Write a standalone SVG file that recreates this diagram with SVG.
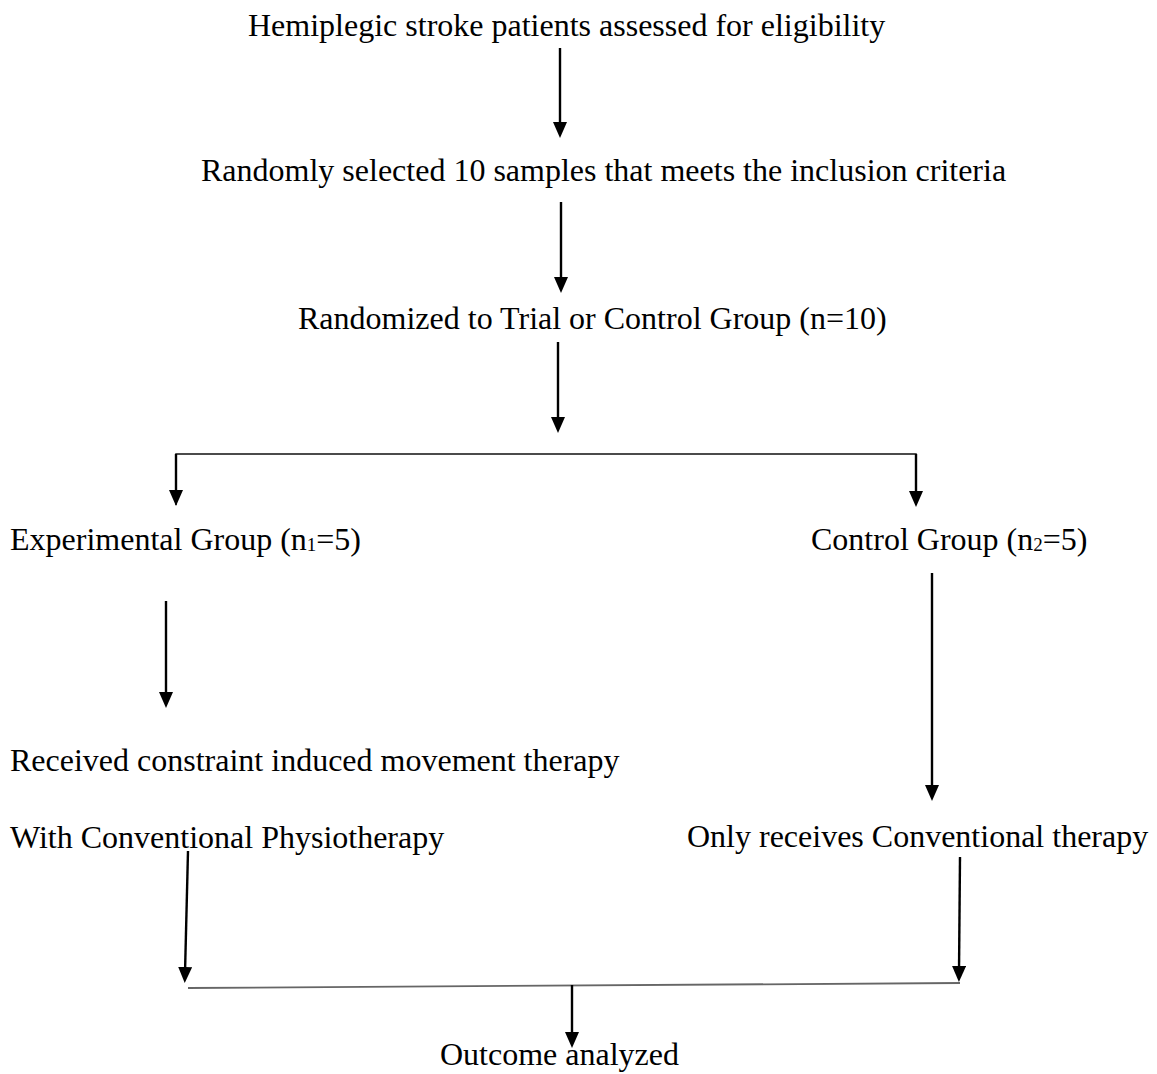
<svg xmlns="http://www.w3.org/2000/svg" width="1157" height="1074" viewBox="0 0 1157 1074">
<style>
  text { font-family: "Liberation Serif", "Times New Roman", serif; font-size: 32px; fill: #000; }
  .arr { stroke: #000; stroke-width: 2.4; fill: none; marker-end: url(#ah); }
  .bar { stroke: #111; stroke-width: 1.5; fill: none; }
  .bar2 { stroke: #666; stroke-width: 1.8; fill: none; }
  .sub { font-size: 19px; }
</style>
<defs>
  <marker id="ah" viewBox="0 0 16 14" refX="6" refY="7" markerWidth="16" markerHeight="14" markerUnits="userSpaceOnUse" orient="auto">
    <path d="M0,0 L16,7 L0,14 z" fill="#000"/>
  </marker>
</defs>
<rect width="1157" height="1074" fill="#fff"/>
<g id="n1"><text x="248" y="36">Hemiplegic stroke patients assessed for eligibility</text></g>
<g id="n2"><text x="201" y="181">Randomly selected 10 samples that meets the inclusion criteria</text></g>
<g id="n3"><text x="298" y="329">Randomized to Trial or Control Group (n=10)</text></g>
<g id="n4"><text x="10" y="550">Experimental Group (n<tspan class="sub" dy="1">1</tspan><tspan dy="-1">=5)</tspan></text></g>
<g id="n5"><text x="811" y="550">Control Group (n<tspan class="sub" dy="1">2</tspan><tspan dy="-1">=5)</tspan></text></g>
<g id="n6"><text x="10" y="771">Received constraint induced movement therapy</text></g>
<g id="n7"><text x="10" y="848">With Conventional Physiotherapy</text></g>
<g id="n8"><text x="687" y="847">Only receives Conventional therapy</text></g>
<g id="n9"><text x="440" y="1065">Outcome analyzed</text></g>
<g id="connectors">
  <line class="arr" x1="560" y1="48" x2="560" y2="128"/>
  <line class="arr" x1="561" y1="202" x2="561" y2="283"/>
  <line class="arr" x1="558" y1="342" x2="558" y2="423"/>
  <polyline class="bar" points="176,505 176,454 916,454 916,505"/>
  <line class="arr" x1="176" y1="454" x2="176" y2="496"/>
  <line class="arr" x1="916" y1="454" x2="916" y2="497"/>
  <line class="arr" x1="166" y1="601" x2="166" y2="698"/>
  <line class="arr" x1="932" y1="573" x2="932" y2="791"/>
  <line class="arr" x1="188" y1="851" x2="185" y2="973"/>
  <line class="arr" x1="960" y1="857" x2="959" y2="972"/>
  <line class="bar2" x1="188" y1="988" x2="960" y2="983"/>
  <line class="arr" x1="572" y1="985" x2="572" y2="1038"/>
</g>
</svg>
